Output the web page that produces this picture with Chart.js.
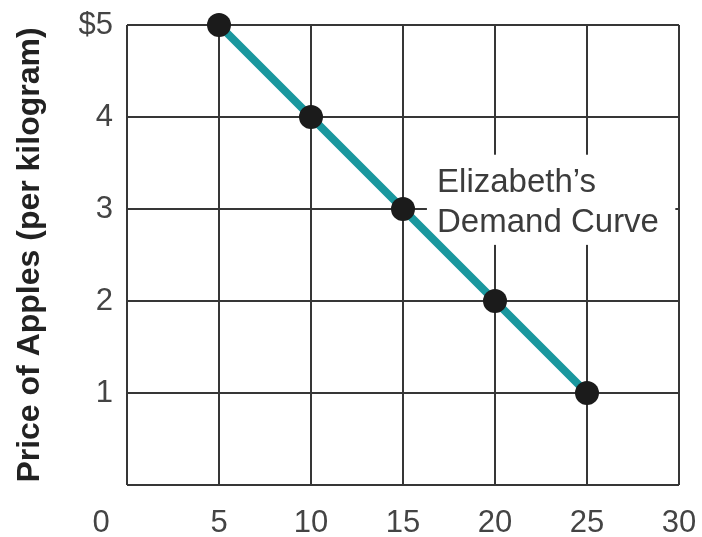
<!DOCTYPE html>
<html>
<head>
<meta charset="utf-8">
<script src="https://cdn.jsdelivr.net/npm/chart.js@4.4.1/dist/chart.umd.min.js"></script>
<style>
html,body{margin:0;padding:0;background:#fff;}
#wrap{width:702px;height:537px;position:relative;}
</style>
</head>
<body>
<div id="wrap"><canvas id="c" width="702" height="537"></canvas></div>
<script>
// Data
const quantities = [5, 10, 15, 20, 25];
const prices = [5, 4, 3, 2, 1];
const xTicks = [0, 5, 10, 15, 20, 25, 30];
const yTicks = [0, 1, 2, 3, 4, 5];
const yTitle = 'Price of Apples (per kilogram)';
const curveLabel = ['Elizabeth\u2019s', 'Demand Curve'];
const originLabel = '0';

const TICK_FONT = {family: 'Liberation Sans, Arial, sans-serif', size: 31};
const TICK_COLOR = '#444444';
const GRID_COLOR = '#363636';

const annotationPlugin = {
  id: 'annot',
  beforeDatasetsDraw(chart) {
    const {ctx, scales: {x, y}} = chart;
    // white box behind label (data units)
    const x0 = x.getPixelForValue(16.3), x1 = x.getPixelForValue(29.8);
    const y0 = y.getPixelForValue(3.59), y1 = y.getPixelForValue(2.61);
    ctx.save();
    ctx.fillStyle = '#ffffff';
    ctx.fillRect(x0, y0, x1 - x0, y1 - y0);
    ctx.fillStyle = '#3c3c3c';
    ctx.font = '33px Liberation Sans, Arial, sans-serif';
    ctx.textBaseline = 'alphabetic';
    ctx.textAlign = 'left';
    const tx = x.getPixelForValue(16.85);
    ctx.fillText(curveLabel[0], tx, y.getPixelForValue(3.185));
    ctx.fillText(curveLabel[1], tx, y.getPixelForValue(2.75));
    ctx.restore();
  },
  afterDraw(chart) {
    const {ctx, scales: {x}} = chart;
    ctx.save();
    ctx.fillStyle = TICK_COLOR;
    ctx.font = TICK_FONT.size + 'px ' + TICK_FONT.family;
    ctx.textAlign = 'center';
    ctx.textBaseline = 'middle';
    ctx.fillText(originLabel, x.getPixelForValue(0) - 26, 523);
    ctx.restore();
  }
};

new Chart(document.getElementById('c'), {
  type: 'line',
  data: {
    datasets: [{
      data: quantities.map((q, i) => ({x: q, y: prices[i]})),
      borderColor: '#1a979e',
      borderWidth: 8,
      pointRadius: 12,
      pointBackgroundColor: '#1b1b1b',
      pointBorderWidth: 0,
      pointHoverRadius: 12,
      tension: 0,
      clip: false
    }]
  },
  options: {
    responsive: false,
    animation: false,
    events: [],
    layout: {padding: {top: 25, right: 23, left: 0, bottom: 0}},
    plugins: {legend: {display: false}, tooltip: {enabled: false}},
    scales: {
      x: {
        type: 'linear', min: 0, max: 30,
        afterBuildTicks(s) { s.ticks = xTicks.map(v => ({value: v})); },
        afterFit(s) { s.height = 52; s.paddingLeft = 0; s.paddingRight = 0; },
        grid: {color: GRID_COLOR, lineWidth: 2, drawTicks: false},
        border: {display: false},
        ticks: {
          font: TICK_FONT, color: TICK_COLOR, padding: 20, maxRotation: 0,
          callback: v => (v === 0 ? '' : String(v))
        }
      },
      y: {
        type: 'linear', min: 0, max: 5,
        afterBuildTicks(s) { s.ticks = yTicks.map(v => ({value: v})); },
        afterFit(s) { s.width = 127; s.paddingTop = 0; s.paddingBottom = 0; },
        grid: {color: GRID_COLOR, lineWidth: 2, drawTicks: false},
        border: {display: false},
        ticks: {
          font: TICK_FONT, color: TICK_COLOR, padding: 14,
          callback: v => (v === 0 ? '' : (v === 5 ? '$' + v : String(v)))
        },
        title: {
          display: true, text: yTitle, color: '#222222',
          font: {family: 'Liberation Sans, Arial, sans-serif', size: 32, weight: 'bold'},
          padding: {top: 11, bottom: 0}
        }
      }
    }
  },
  plugins: [annotationPlugin]
});
</script>
</body>
</html>
